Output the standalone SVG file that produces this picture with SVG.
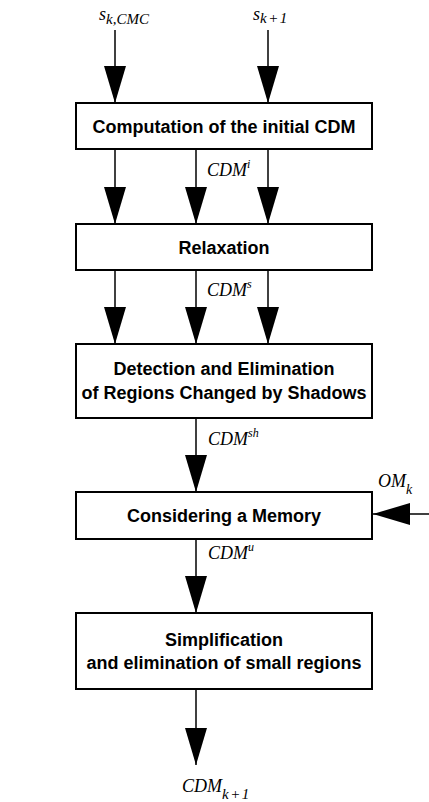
<svg xmlns="http://www.w3.org/2000/svg" width="429" height="802" viewBox="0 0 429 802">
<style>
.box{fill:#fff;stroke:#000;stroke-width:2}
.t{font-family:"Liberation Sans",Arial,sans-serif;font-weight:bold;font-size:18px;text-anchor:middle;fill:#000}
.l{font-family:"Liberation Serif","Times New Roman",serif;font-style:italic;font-size:18px;fill:#000}
.c{stroke:#000;stroke-width:1.5;fill:none;marker-end:url(#ah)}
</style>
<defs>
<marker id="ah" markerUnits="userSpaceOnUse" markerWidth="38" markerHeight="24" refX="37" refY="11" orient="auto">
<path d="M0,0 L37,11 L0,22 Z" fill="#000"/>
</marker>
</defs>
<rect width="429" height="802" fill="#fff"/>
<g id="connectors">
<line class="c" x1="115" y1="30" x2="115" y2="103"/>
<line class="c" x1="268" y1="30" x2="268" y2="103"/>
<line class="c" x1="115" y1="149" x2="115" y2="224"/>
<line class="c" x1="196" y1="149" x2="196" y2="224"/>
<line class="c" x1="268" y1="149" x2="268" y2="224"/>
<line class="c" x1="115" y1="270" x2="115" y2="344"/>
<line class="c" x1="196" y1="270" x2="196" y2="344"/>
<line class="c" x1="268" y1="270" x2="268" y2="344"/>
<line class="c" x1="196" y1="418" x2="196" y2="492"/>
<line class="c" x1="196" y1="539" x2="196" y2="613"/>
<line class="c" x1="196" y1="689" x2="196" y2="765"/>
<line class="c" x1="429" y1="514" x2="373" y2="514"/>
</g>
<g id="labels">
<text class="l" x="99" y="20" font-size="22">s<tspan font-size="15" dy="4">k,CMC</tspan></text>
<text class="l" x="253" y="20" font-size="22">s<tspan font-size="15" dy="3" letter-spacing="1.5">k+1</tspan></text>
<text class="l" x="207" y="176">CDM<tspan font-size="12" dy="-8">i</tspan></text>
<text class="l" x="207" y="296">CDM<tspan font-size="12" dy="-8">s</tspan></text>
<text class="l" x="208" y="445">CDM<tspan font-size="12" dy="-8">sh</tspan></text>
<text class="l" x="378" y="487">OM<tspan font-size="14" dy="7">k</tspan></text>
<text class="l" x="208" y="559">CDM<tspan font-size="12" dy="-8">u</tspan></text>
<text class="l" x="182" y="792">CDM<tspan font-size="15" dy="7" letter-spacing="1.5">k+1</tspan></text>
</g>
<g id="n1">
<rect class="box" x="76" y="103" width="296" height="46"/>
<text class="t" x="224" y="133">Computation of the initial CDM</text>
</g>
<g id="n2">
<rect class="box" x="76" y="224" width="296" height="46"/>
<text class="t" x="224" y="254">Relaxation</text>
</g>
<g id="n3">
<rect class="box" x="76" y="344" width="296" height="74"/>
<text class="t" x="224" y="375">Detection and Elimination</text>
<text class="t" x="224" y="399">of Regions Changed by Shadows</text>
</g>
<g id="n4">
<rect class="box" x="76" y="492" width="296" height="47"/>
<text class="t" x="224" y="522">Considering a Memory</text>
</g>
<g id="n5">
<rect class="box" x="76" y="613" width="296" height="76"/>
<text class="t" x="224" y="646">Simplification</text>
<text class="t" x="224" y="669">and elimination of small regions</text>
</g>
</svg>
